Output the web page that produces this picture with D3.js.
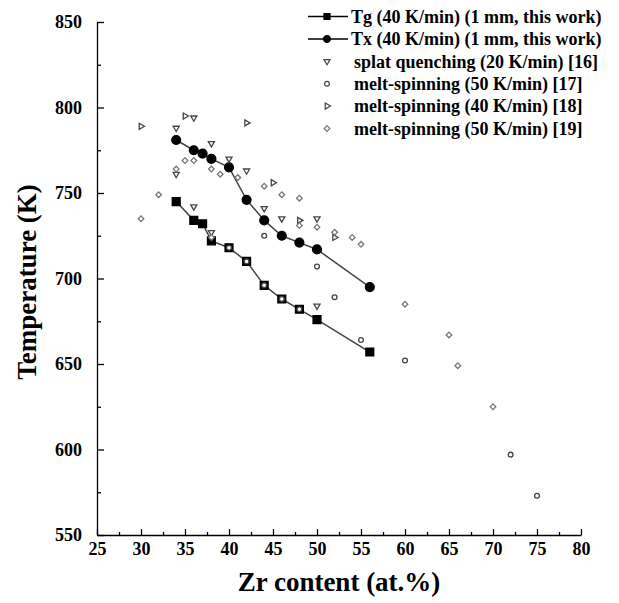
<!DOCTYPE html>
<meta charset="utf-8">
<style>
    body { margin: 0; background: #fff; }
    text { font-family: "Liberation Serif", "Times New Roman", serif; font-weight: bold; fill: #000; }
    .axis path, .axis line { stroke: #000; stroke-width: 1.3px; }
    .axis text { font-size: 18px; }
</style>
<body>
<script src="https://cdn.jsdelivr.net/npm/d3@7/dist/d3.min.js"></script>
<script>
    var width = 619, height = 603

    // this work (filled symbols)
    var tgData = [[34,745],[36,734],[37,732],[38,722],[40,718],[42,710],[44,696],[46,688],[48,682],[50,676],[56,657]]
    var txData = [[34,781],[36,775],[37,773],[38,770],[40,765],[42,746],[44,734],[46,725],[48,721],[50,717],[56,695]]
    // literature (open symbols)
    var splat16 = [[34,788],[34,761],[36,794],[36,742],[38,779],[38,727],[40,770],[42,763],[44,741],[46,735],[50,735],[50,684]]
    var melt17 = [[40,718],[42,710],[44,696],[44,725],[46,688],[48,682],[50,707],[52,689],[55,664],[60,652],[72,597],[75,573]]
    var melt18 = [[30,789],[35,795],[42,791],[45,756],[48,734],[52,724]]
    var melt19 = [[30,735],[32,749],[34,764],[35,769],[36,769],[38,764],[38,724],[39,761],[41,759],[44,754],[46,749],[48,747],[48,731],[50,730],[52,727],[54,724],[55,720],[60,685],[65,667],[66,649],[70,625]]

    var legendLabels = ["Tg (40 K/min) (1 mm, this work)", "Tx (40 K/min) (1 mm, this work)",
        "splat quenching (20 K/min) [16]", "melt-spinning (50 K/min) [17]",
        "melt-spinning (40 K/min) [18]", "melt-spinning (50 K/min) [19]"]

    var xTicks = d3.range(25, 81, 5)
    var yTicks = d3.range(550, 851, 50)

    var x = d3.scaleLinear().domain([25, 80]).range([97, 581])
    var y = d3.scaleLinear().domain([550, 850]).range([535, 22])

    var svg = d3.select("body").append("svg")
        .attr("width", width)
        .attr("height", height)

    // minor ticks
    svg.append("g").attr("class", "axis")
        .attr("transform", "translate(0,535)")
        .call(d3.axisBottom(x).tickValues(d3.range(27.5, 80, 5)).tickSize(-3).tickFormat(""))
        .select(".domain").remove()
    svg.append("g").attr("class", "axis")
        .attr("transform", "translate(97,0)")
        .call(d3.axisLeft(y).tickValues(d3.range(575, 850, 50)).tickSize(-4).tickFormat(""))
        .select(".domain").remove()

    var xAxis = svg.append("g").attr("class", "axis")
        .attr("transform", "translate(0,535)")
        .call(d3.axisBottom(x).tickValues(xTicks).tickSizeInner(-6).tickSizeOuter(0).tickPadding(4))
    xAxis.selectAll("text").attr("dy", "0.9em")

    var yAxis = svg.append("g").attr("class", "axis")
        .attr("transform", "translate(97,0)")
        .call(d3.axisLeft(y).tickValues(yTicks).tickSizeInner(-7).tickSizeOuter(0).tickPadding(15))

    svg.append("text")
        .attr("x", 339).attr("y", 591)
        .attr("text-anchor", "middle")
        .style("font-size", "27px")
        .text("Zr content (at.%)")

    svg.append("text")
        .attr("transform", "translate(36,282) rotate(-90)")
        .attr("text-anchor", "middle")
        .style("font-size", "27px")
        .text("Temperature (K)")

    var line = d3.line().x(function(d) { return x(d[0]) }).y(function(d) { return y(d[1]) })

    svg.append("path").datum(tgData)
        .attr("d", line).attr("fill", "none").attr("stroke", "#444").attr("stroke-width", 1.5)
    svg.append("path").datum(txData)
        .attr("d", line).attr("fill", "none").attr("stroke", "#444").attr("stroke-width", 1.5)

    var series = [
        {data: tgData, type: d3.symbolSquare, size: 62, rot: 0, fill: "#000", stroke: "#000"},
        {data: txData, type: d3.symbolCircle, size: 62, rot: 0, fill: "#000", stroke: "#000"},
        {data: splat16, type: d3.symbolTriangle, size: 16, rot: 180, fill: "#fff", stroke: "#444"},
        {data: melt17, type: d3.symbolCircle, size: 18, rot: 0, fill: "#fff", stroke: "#444"},
        {data: melt18, type: d3.symbolTriangle, size: 16, rot: 90, fill: "#fff", stroke: "#444"},
        {data: melt19, type: d3.symbolSquare, size: 16, rot: 45, fill: "#fff", stroke: "#777"}
    ]

    series.forEach(function(s) {
        svg.append("g").selectAll("path")
            .data(s.data)
        .enter().append("path")
            .attr("d", d3.symbol().type(s.type).size(s.size))
            .attr("transform", function(d) { return "translate(" + x(d[0]) + "," + y(d[1]) + ") rotate(" + s.rot + ")" })
            .attr("fill", s.fill)
            .attr("stroke", s.stroke)
            .attr("stroke-width", 1.3)
    })

    // legend
    var legend = svg.append("g")
    legendLabels.forEach(function(lab, i) {
        var s = series[i]
        var ly = 16.5 + i * 22.4
        if (i < 2) {
            legend.append("line")
                .attr("x1", 308).attr("x2", 348).attr("y1", ly).attr("y2", ly)
                .attr("stroke", "#000").attr("stroke-width", 1.5)
        }
        legend.append("path")
            .attr("d", d3.symbol().type(s.type).size(i < 2 ? 36 : s.size))
            .attr("transform", "translate(327," + ly + ") rotate(" + s.rot + ")")
            .attr("fill", s.fill).attr("stroke", s.stroke).attr("stroke-width", 1.2)
        legend.append("text")
            .attr("x", i < 2 ? 351 : 354).attr("y", ly)
            .attr("dy", "0.35em")
            .style("font-size", "18px")
            .text(lab)
    })
</script>
</body>
